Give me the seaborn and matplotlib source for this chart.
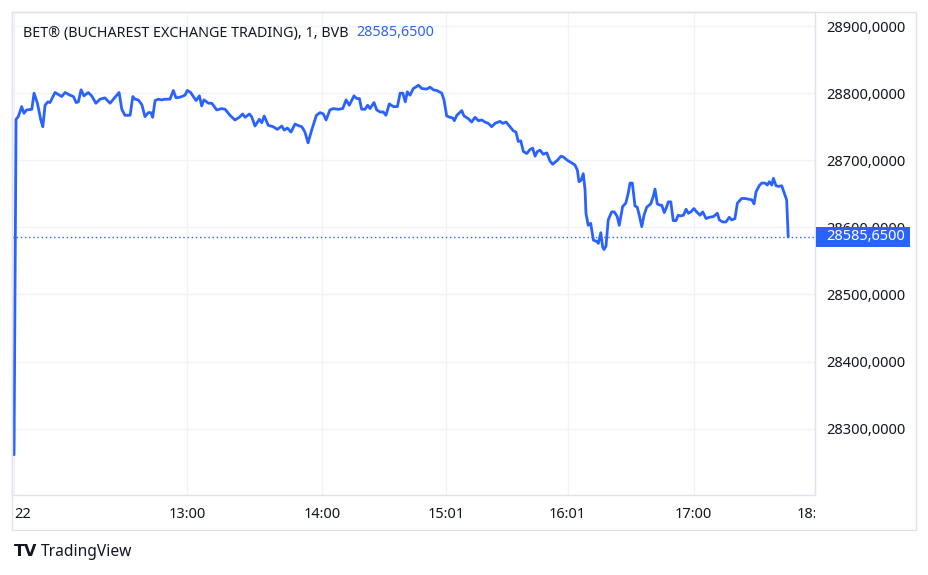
import matplotlib
matplotlib.use("Agg")
import matplotlib.pyplot as plt
import matplotlib.transforms as mtransforms
from matplotlib.patches import Rectangle
import seaborn as sns

# bar index (1-minute bars) and close price
bars = [0.0, 0.9, 1.9, 3.4, 4.4, 5.6, 7.9, 8.9, 10.4, 11.9, 12.8, 13.8, 15.0, 16.0, 18.2, 19.7,
        21.2, 22.7, 24.9, 26.4, 27.6, 28.6, 29.8, 31.1, 33.0, 34.5, 36.4, 38.2, 40.4, 42.7, 44.4,
        46.7, 47.9, 49.3, 51.6, 52.8, 53.8, 55.2, 56.8, 58.2, 59.7, 60.8, 61.6, 62.7, 64.1, 65.6,
        67.1, 69.3, 70.8, 72.0, 73.8, 76.0, 77.0, 78.5, 79.7, 80.9, 82.4, 83.4, 84.4, 86.4, 87.9,
        90.1, 92.3, 93.8, 96.0, 98.2, 100.1, 101.6, 102.7, 104.6, 105.6, 107.1, 109.0, 110.1, 111.2,
        113.0, 115.2, 117.0, 119.0, 120.1, 121.5, 123.1, 124.9, 126.1, 127.9, 129.3, 130.7, 132.3,
        134.4, 136.0, 137.5, 138.7, 140.4, 141.9, 144.1, 146.1, 147.6, 149.0, 151.1, 152.3, 153.5,
        154.5, 156.0, 157.2, 158.2, 160.0, 161.2, 162.7, 164.1, 165.3, 166.8, 168.6, 170.4, 171.6,
        172.8, 173.9, 174.8, 176.0, 177.5, 179.0, 179.7, 181.2, 183.4, 184.9, 186.4, 187.9, 190.1,
        191.1, 192.3, 193.8, 195.0, 195.7, 196.8, 199.0, 200.0, 201.9, 203.4, 204.9, 206.4, 207.9,
        209.3, 210.8, 212.3, 213.8, 216.0, 217.2, 218.7, 220.4, 221.9, 223.1, 224.1, 225.2, 226.4,
        227.9, 229.3, 230.5, 231.6, 232.6, 233.8, 235.2, 236.8, 238.2, 239.4, 241.5, 243.1, 244.1,
        245.9, 247.9, 249.3, 250.4, 251.1, 252.0, 253.0, 253.8, 254.2, 255.2, 256.3, 257.5, 259.0,
        259.7, 260.8, 261.6, 262.2, 263.1, 264.1, 265.6, 266.8, 268.1, 269.0, 270.5, 271.9, 273.0,
        273.8, 274.8, 276.0, 277.0, 277.9, 279.0, 280.0, 281.2, 283.0, 284.1, 284.9, 285.9, 287.1,
        287.9, 289.0, 289.8, 290.8, 291.9, 293.0, 294.2, 295.2, 296.3, 297.5, 298.7, 299.7, 300.8,
        302.2, 303.4, 304.9, 306.1, 307.6, 309.0, 310.8, 312.6, 313.5, 315.0, 316.4, 317.9, 319.0,
        320.4, 321.5, 323.4, 324.9, 326.4, 327.9, 328.9, 329.8, 331.2, 332.3, 333.8, 334.8, 335.7,
        336.8, 337.5, 338.7, 339.7, 341.2, 342.7, 343.4, 344.1]
prices = [28261, 28761, 28765, 28780, 28770, 28775, 28776, 28800, 28785, 28760, 28750, 28782,
          28787, 28786, 28801, 28798, 28795, 28801, 28797, 28795, 28786, 28787, 28805, 28796,
          28801, 28796, 28785, 28791, 28793, 28785, 28792, 28801, 28776, 28767, 28767, 28795,
          28791, 28790, 28783, 28765, 28771, 28771, 28764, 28789, 28791, 28790, 28791, 28791,
          28804, 28793, 28794, 28797, 28804, 28801, 28795, 28789, 28796, 28781, 28790, 28785,
          28785, 28775, 28777, 28776, 28767, 28760, 28764, 28769, 28764, 28769, 28765, 28751,
          28761, 28756, 28766, 28752, 28750, 28746, 28751, 28745, 28748, 28742, 28754, 28752,
          28750, 28742, 28726, 28745, 28767, 28771, 28769, 28760, 28775, 28777, 28776, 28777,
          28790, 28782, 28796, 28792, 28792, 28776, 28776, 28782, 28777, 28786, 28775, 28772,
          28772, 28767, 28784, 28780, 28780, 28800, 28800, 28787, 28802, 28797, 28807, 28810,
          28812, 28807, 28806, 28809, 28805, 28804, 28800, 28790, 28766, 28764, 28763, 28759,
          28767, 28774, 28766, 28762, 28757, 28764, 28759, 28760, 28757, 28755, 28750, 28755,
          28758, 28755, 28757, 28750, 28744, 28742, 28728, 28729, 28713, 28710, 28716, 28718,
          28706, 28713, 28715, 28709, 28711, 28699, 28694, 28700, 28706, 28705, 28700, 28696,
          28693, 28685, 28668, 28670, 28680, 28656, 28621, 28603, 28606, 28581, 28579, 28576,
          28592, 28571, 28567, 28572, 28611, 28623, 28623, 28616, 28603, 28631, 28636, 28651,
          28666, 28666, 28632, 28630, 28618, 28601, 28618, 28630, 28635, 28646, 28657, 28635,
          28633, 28633, 28622, 28628, 28638, 28638, 28610, 28610, 28618, 28617, 28618, 28627,
          28621, 28623, 28628, 28623, 28618, 28623, 28613, 28615, 28616, 28621, 28611, 28608,
          28608, 28615, 28611, 28613, 28636, 28643, 28643, 28642, 28641, 28635, 28653, 28662,
          28666, 28666, 28663, 28668, 28663, 28673, 28662, 28661, 28662, 28648, 28641, 28585.65]

last_price = 28585.65
price_ticks = [28300, 28400, 28500, 28600, 28700, 28800, 28900]
time_ticks = [0, 77, 137, 192, 246, 302, 356]
time_labels = ["22", "13:00", "14:00", "15:01", "16:01", "17:00", "18:00"]

title = "BET® (BUCHAREST EXCHANGE TRADING), 1, BVB"

BLUE = "#2962ff"
TEXT = "#131722"
BORDER = "#e0e3eb"
GRID = "#f0f3fa"

sns.set_style("white")
plt.rcParams["font.family"] = ["Noto Sans", "DejaVu Sans"]

W, H = 929, 575
fig = plt.figure(figsize=(W / 100, H / 100), dpi=100)
ax = fig.add_axes([12 / W, (H - 495) / H, (815 - 12) / W, (495 - 12) / H])

sns.lineplot(x=bars, y=prices, ax=ax, color=BLUE, linewidth=2.0, zorder=3)
ax.axhline(last_price, color=BLUE, linestyle=(0, (1, 2)), linewidth=1, zorder=2)

ax.set_xlim(-0.9, 356)
ax.set_ylim(28201, 28921)

ax.set_xticks(time_ticks)
ax.set_xticklabels(time_labels)
ax.set_yticks(price_ticks)
ax.set_yticklabels([f"{v:.4f}".replace(".", ",") for v in price_ticks])
ax.yaxis.tick_right()
ax.tick_params(axis="y", length=0, pad=8, labelsize=10.5, labelcolor=TEXT)
ax.tick_params(axis="x", length=0, pad=9, labelsize=10.5, labelcolor=TEXT)
# first date label sits a bit right of its bar, like the reference
ax.get_xticklabels()[0].set_horizontalalignment("left")
ax.get_xticklabels()[0].set_x(0)
ax.grid(True, color=GRID, linewidth=1)
ax.set_axisbelow(True)
for s in ax.spines.values():
    s.set_color(BORDER)
    s.set_linewidth(1)

# last price badge on the price scale
trans = mtransforms.blended_transform_factory(ax.transAxes, ax.transData)
ax.add_patch(Rectangle((1 + 1 / 803, last_price - 15), 94 / 803, 30, transform=trans,
                       facecolor=BLUE, edgecolor="none", clip_on=False, zorder=5))
ax.text(1 + 11 / 803, last_price, f"{last_price:.4f}".replace(".", ","), transform=trans,
        color="white", fontsize=10.5, va="center", ha="left", clip_on=False, zorder=6)

# cover label overflow outside the chart panes
fig.add_artist(Rectangle((0, 0), 11.5 / W, 1, transform=fig.transFigure,
                         facecolor="white", edgecolor="none", zorder=2))
fig.add_artist(Rectangle((815.5 / W, (H - 529.5) / H), 100 / W, 34 / H, transform=fig.transFigure,
                         facecolor="white", edgecolor="none", zorder=2))
fig.add_artist(Rectangle((12 / W, (H - 530) / H), 904 / W, 518 / H, transform=fig.transFigure,
                         facecolor="none", edgecolor=BORDER, linewidth=1, zorder=3))

fig.text(23 / W, 1 - 33 / H, title, color=TEXT, fontsize=10.3, va="center", ha="left")
fig.text(356 / W, 1 - 33 / H, f"{last_price:.4f}".replace(".", ","), color=BLUE,
         fontsize=10.3, va="center", ha="left")

fig.text(14 / W, 1 - 552 / H, "TV", color=TEXT, fontsize=11.5, fontweight="heavy",
         va="center", ha="left", family="DejaVu Sans")
fig.text(41 / W, 1 - 552 / H, "TradingView", color=TEXT, fontsize=11.2, va="center", ha="left")

fig.savefig("out.png", dpi=100)
